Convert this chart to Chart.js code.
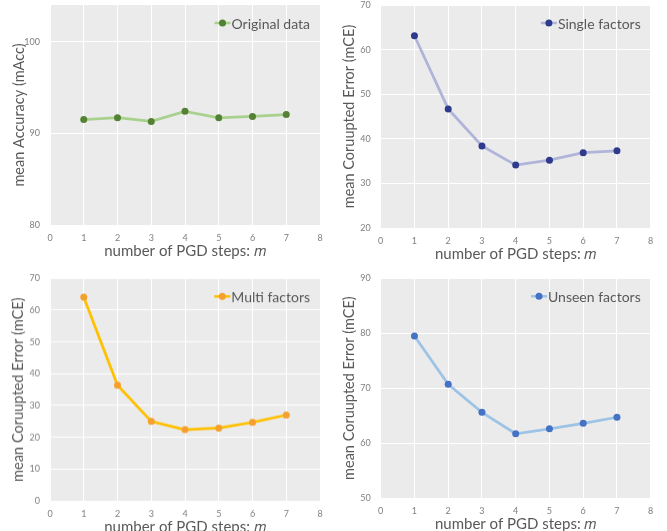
<!DOCTYPE html>
<html>
<head>
<meta charset="utf-8">
<script src="https://cdn.jsdelivr.net/npm/chart.js@4.4.1/dist/chart.umd.min.js"></script>
<style>
  body { margin: 0; width: 667px; height: 531px; overflow: hidden; position: relative; background: #fff; }
  canvas { position: absolute; }
</style>
</head>
<body>
<canvas id="c1"></canvas>
<canvas id="c2"></canvas>
<canvas id="c3"></canvas>
<canvas id="c4"></canvas>
<script>
// datos
var steps = [1, 2, 3, 4, 5, 6, 7];
var originalData = [91.5, 91.7, 91.3, 92.4, 91.7, 91.85, 92.05];
var singleFactors = [63.1, 46.7, 38.4, 34.1, 35.2, 36.9, 37.3];
var multiFactors = [64.1, 36.4, 25.0, 22.4, 22.9, 24.7, 27.0];
var unseenFactors = [79.5, 70.7, 65.6, 61.7, 62.6, 63.6, 64.7];

var yTicksAcc = [80, 90, 100];
var yTicksSingle = [20, 30, 40, 50, 60, 70];
var yTicksMulti = [0, 10, 20, 30, 40, 50, 60, 70];
var yTicksUnseen = [50, 60, 70, 80, 90];

var FONT = 'Lato, "Open Sans", sans-serif';

// fondo gris del area de trazado
var plotBg = {
    id: 'plotBg',
    beforeDraw: function(chart) {
        var a = chart.chartArea, ctx = chart.ctx;
        ctx.save();
        ctx.fillStyle = '#EBEBEB';
        ctx.fillRect(a.left, a.top, a.right - a.left, a.bottom - a.top);
        ctx.restore();
    }
};

// leyenda dentro del area (linea + punto + texto)
var insideLegend = {
    id: 'insideLegend',
    afterDraw: function(chart, args, opts) {
        var a = chart.chartArea, ctx = chart.ctx;
        ctx.save();
        ctx.font = '14px ' + FONT;
        ctx.textBaseline = 'middle';
        ctx.textAlign = 'left';
        var w = ctx.measureText(opts.text).width;
        var tx = a.right - 10 - w;
        var y = a.top + 18;
        ctx.strokeStyle = opts.lineColor;
        ctx.lineWidth = 2.5;
        ctx.beginPath();
        ctx.moveTo(tx - 17, y);
        ctx.lineTo(tx - 1, y);
        ctx.stroke();
        ctx.fillStyle = opts.dotColor;
        ctx.beginPath();
        ctx.arc(tx - 9, y, 3.5, 0, Math.PI * 2);
        ctx.fill();
        ctx.fillStyle = '#595959';
        ctx.fillText(opts.text, tx, y + 1);
        ctx.restore();
    }
};

function makeChart(id, cfg) {
    var canvas = document.getElementById(id);
    canvas.style.left = cfg.x + 'px';
    canvas.style.top = cfg.y + 'px';
    canvas.width = cfg.w;
    canvas.height = cfg.bottom + 40;
    canvas.style.width = cfg.w + 'px';
    canvas.style.height = (cfg.bottom + 40) + 'px';

    var points = steps.map(function(s, i) { return { x: s, y: cfg.values[i] }; });

    return new Chart(canvas.getContext('2d'), {
        type: 'line',
        data: {
            datasets: [{
                label: cfg.label,
                data: points,
                borderColor: cfg.lineColor,
                borderWidth: 2.75,
                pointRadius: 3.5,
                pointHoverRadius: 3.5,
                pointBackgroundColor: cfg.dotColor,
                pointBorderColor: cfg.dotColor,
                pointBorderWidth: 0,
                tension: 0
            }]
        },
        options: {
            responsive: false,
            animation: false,
            devicePixelRatio: 1,
            layout: {
                padding: { left: 0, top: cfg.top, right: cfg.w - cfg.right, bottom: 0 }
            },
            plugins: {
                legend: { display: false },
                tooltip: { enabled: false },
                insideLegend: { text: cfg.label, lineColor: cfg.lineColor, dotColor: cfg.dotColor }
            },
            scales: {
                x: {
                    type: 'linear',
                    min: 0,
                    max: 8,
                    afterFit: function(scale) {
                        scale.height = 40;
                        scale.paddingLeft = 0;
                        scale.paddingRight = 0;
                    },
                    ticks: { stepSize: 1, padding: 8, color: '#808080', font: { family: FONT, size: 9 } },
                    grid: { color: '#FFFFFF', lineWidth: 1, drawTicks: false },
                    border: { display: false },
                    title: {
                        display: true,
                        text: 'number of PGD steps: 𝑚',
                        color: '#595959',
                        font: { family: FONT, size: 15 },
                        padding: { top: 0, bottom: 14 - 9 }
                    }
                },
                y: {
                    min: cfg.ymin,
                    max: cfg.ymax,
                    afterFit: function(scale) {
                        scale.width = cfg.left;
                        scale.paddingTop = 0;
                        scale.paddingBottom = 0;
                    },
                    afterBuildTicks: function(scale) {
                        scale.ticks = cfg.yTicks.map(function(v) { return { value: v }; });
                    },
                    ticks: { padding: 10, color: '#808080', font: { family: FONT, size: 9 } },
                    grid: { color: '#FFFFFF', lineWidth: 1, drawTicks: false },
                    border: { display: false },
                    title: {
                        display: true,
                        text: cfg.yTitle,
                        color: '#595959',
                        font: { family: FONT, size: 14.5 },
                        padding: { top: cfg.titlePad, bottom: 0 }
                    }
                }
            }
        },
        plugins: [plotBg, insideLegend]
    });
}

makeChart('c1', {
    x: 0, y: 0, w: 334, left: 50, right: 320, top: 5, bottom: 225,
    values: originalData, yTicks: yTicksAcc, ymin: 80, ymax: 104,
    label: 'Original data', lineColor: '#A9D18E', dotColor: '#548235',
    yTitle: 'mean Accuracy (mAcc)', titlePad: 11
});
makeChart('c2', {
    x: 334, y: 0, w: 333, left: 46.7, right: 316.7, top: 5, bottom: 228.3,
    values: singleFactors, yTicks: yTicksSingle, ymin: 20, ymax: 70,
    label: 'Single factors', lineColor: '#AFB4D8', dotColor: '#2E3A8C',
    yTitle: 'mean Coruupted Error (mCE)', titlePad: 7
});
makeChart('c3', {
    x: 0, y: 265, w: 334, left: 50, right: 320, top: 13.3, bottom: 235.7,
    values: multiFactors, yTicks: yTicksMulti, ymin: 0, ymax: 70,
    label: 'Multi factors', lineColor: '#FFC000', dotColor: '#F5A02E',
    yTitle: 'mean Coruupted Error (mCE)', titlePad: 10
});
makeChart('c4', {
    x: 334, y: 265, w: 333, left: 46.7, right: 316.7, top: 13.3, bottom: 233.3,
    values: unseenFactors, yTicks: yTicksUnseen, ymin: 50, ymax: 90,
    label: 'Unseen factors', lineColor: '#9DC3E6', dotColor: '#4472C4',
    yTitle: 'mean Coruupted Error (mCE)', titlePad: 7
});
</script>
</body>
</html>
